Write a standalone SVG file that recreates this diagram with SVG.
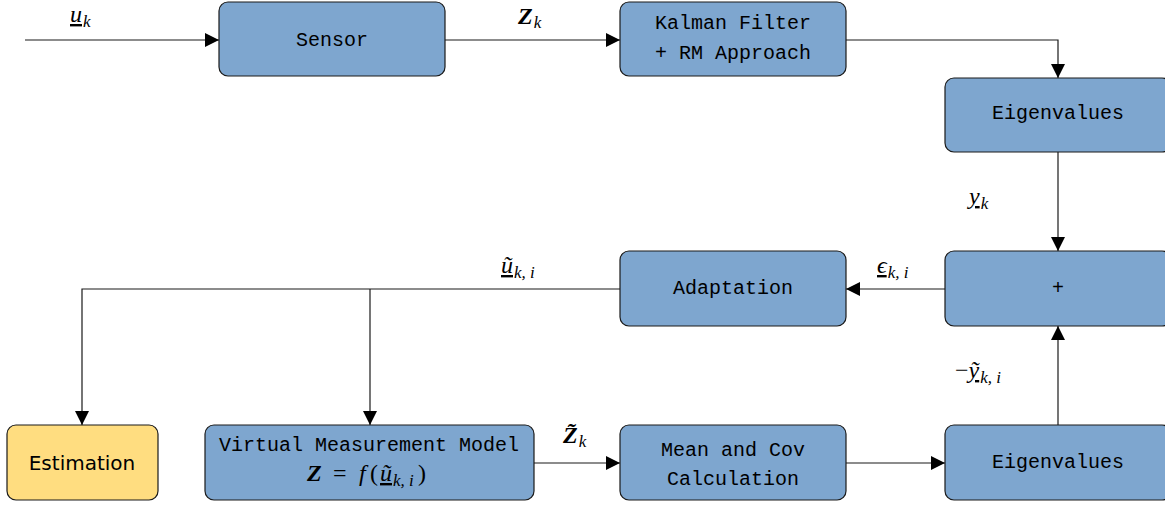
<svg xmlns="http://www.w3.org/2000/svg" width="1165" height="506" viewBox="0 0 1165 506">
<defs>
<marker id="ah" viewBox="0 0 10 10" refX="10" refY="5" markerWidth="14" markerHeight="14" markerUnits="userSpaceOnUse" orient="auto">
<path d="M0,0 L10,5 L0,10 z" fill="#000"/>
</marker>
<style>
.box{fill:#7EA6CF;stroke:#1a1a1a;stroke-width:1.2}
.yel{fill:#FFDD80;stroke:#1a1a1a;stroke-width:1.2}
.tt{font-family:"Liberation Mono","DejaVu Sans Mono",monospace;font-size:20px;fill:#000;text-anchor:middle;dominant-baseline:central}
.sf{font-family:"DejaVu Sans","Liberation Sans",sans-serif;font-size:20px;fill:#000;text-anchor:middle;dominant-baseline:central}
.m{font-family:"Liberation Serif","DejaVu Serif",serif;font-style:italic;font-size:24px;fill:#000}
.sub{font-size:17px}
.u{text-decoration:underline}
.c{fill:none;stroke:#1a1a1a;stroke-width:1.2}
</style>
</defs>
<g id="connectors">
<path class="c" d="M25,40 H219" marker-end="url(#ah)"/>
<path class="c" d="M445,40 H620" marker-end="url(#ah)"/>
<path class="c" d="M846,40 H1058 V78" marker-end="url(#ah)"/>
<path class="c" d="M1058,152 V251" marker-end="url(#ah)"/>
<path class="c" d="M945,289 H846" marker-end="url(#ah)"/>
<path class="c" d="M620,289 H82 V425" marker-end="url(#ah)"/>
<path class="c" d="M370,289 V425" marker-end="url(#ah)"/>
<path class="c" d="M534,463 H620" marker-end="url(#ah)"/>
<path class="c" d="M846,463 H945" marker-end="url(#ah)"/>
<path class="c" d="M1058,425 V326" marker-end="url(#ah)"/>
</g>
<g id="labels">
<text class="m" x="70" y="22"><tspan class="u">u</tspan><tspan class="sub" dx="1" dy="5">k</tspan></text>
<text class="m" x="518" y="24" font-weight="bold">Z<tspan class="sub" dx="1" dy="4" font-weight="normal">k</tspan></text>
<text class="m" x="969" y="204"><tspan class="u">y</tspan><tspan class="sub" dx="1" dy="5">k</tspan></text>
<text class="m" x="877" y="273"><tspan class="u">ϵ</tspan><tspan class="sub" dx="1" dy="5">k, i</tspan></text>
<text class="m" x="501" y="273"><tspan class="u">ũ</tspan><tspan class="sub" dx="1" dy="5">k, i</tspan></text>
<text class="m" x="563" y="443" font-weight="bold">Z̃<tspan class="sub" dx="1" dy="4" font-weight="normal">k</tspan></text>
<text class="m" x="955" y="378"><tspan font-style="normal">−</tspan><tspan class="u">ỹ</tspan><tspan class="sub" dx="1" dy="5">k, i</tspan></text>
</g>
<g id="sensor">
<rect class="box" x="219" y="2" width="226" height="74" rx="9"/>
<text class="tt" x="332" y="40">Sensor</text>
</g>
<g id="kalman">
<rect class="box" x="620" y="2" width="226" height="74" rx="9"/>
<text class="tt" x="733" y="23">Kalman Filter</text>
<text class="tt" x="733" y="53">+ RM Approach</text>
</g>
<g id="eigen-top">
<rect class="box" x="945" y="78" width="226" height="74" rx="9"/>
<text class="tt" x="1058" y="113">Eigenvalues</text>
</g>
<g id="plus">
<rect class="box" x="945" y="251" width="226" height="75" rx="9"/>
<text class="tt" x="1058" y="288">+</text>
</g>
<g id="adaptation">
<rect class="box" x="620" y="251" width="226" height="75" rx="9"/>
<text class="tt" x="733" y="288">Adaptation</text>
</g>
<g id="estimation">
<rect class="yel" x="7" y="425" width="151" height="75" rx="9"/>
<text class="sf" x="82" y="463">Estimation</text>
</g>
<g id="virtual">
<rect class="box" x="205" y="425" width="329" height="75" rx="9"/>
<text class="tt" x="369" y="445">Virtual Measurement Model</text>
<text class="m" y="481" font-size="25"><tspan x="307" font-weight="bold">Z</tspan><tspan x="333" font-style="normal">=</tspan><tspan x="359">f</tspan><tspan x="370" font-style="normal">(</tspan><tspan x="380" class="u">ũ</tspan><tspan class="sub" dx="1" dy="5">k, i</tspan><tspan x="418" font-style="normal" dy="-5">)</tspan></text>
</g>
<g id="meancov">
<rect class="box" x="620" y="425" width="226" height="75" rx="9"/>
<text class="tt" x="733" y="450">Mean and Cov</text>
<text class="tt" x="733" y="479">Calculation</text>
</g>
<g id="eigen-bottom">
<rect class="box" x="945" y="425" width="226" height="75" rx="9"/>
<text class="tt" x="1058" y="462">Eigenvalues</text>
</g>
</svg>
